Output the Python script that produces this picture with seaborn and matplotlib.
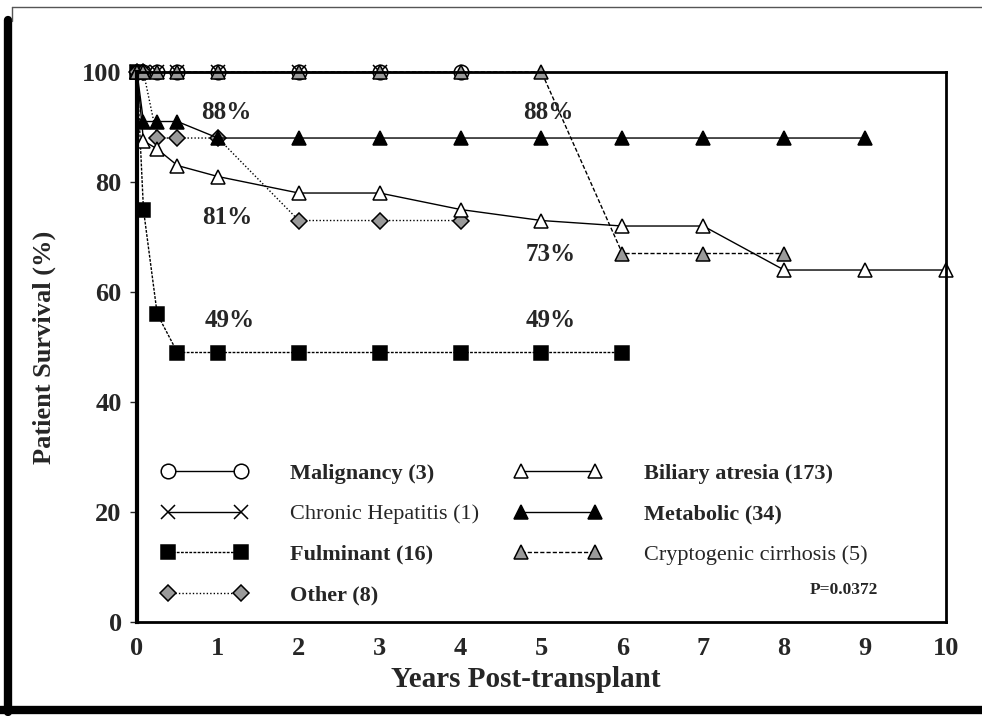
import pandas as pd
import matplotlib.pyplot as plt
import seaborn as sns
from matplotlib.lines import Line2D

# survival curves, years post-transplant vs patient survival (%)
malig_x = [0, 0.08, 0.25, 0.5, 1, 2, 3, 4]
malig_y = [100, 100, 100, 100, 100, 100, 100, 100]

chronic_x = [0, 0.08, 0.25, 0.5, 1, 2, 3]
chronic_y = [100, 100, 100, 100, 100, 100, 100]

fulm_x = [0, 0.08, 0.25, 0.5, 1, 2, 3, 4, 5, 6]
fulm_y = [100, 75, 56, 49, 49, 49, 49, 49, 49, 49]

other_x = [0, 0.08, 0.25, 0.5, 1, 2, 3, 4]
other_y = [100, 100, 88, 88, 88, 73, 73, 73]

biliary_x = [0, 0.08, 0.25, 0.5, 1, 2, 3, 4, 5, 6, 7, 8, 9, 10]
biliary_y = [100, 87.5, 86, 83, 81, 78, 78, 75, 73, 72, 72, 64, 64, 64]

metab_x = [0, 0.08, 0.25, 0.5, 1, 2, 3, 4, 5, 6, 7, 8, 9]
metab_y = [100, 91, 91, 91, 88, 88, 88, 88, 88, 88, 88, 88, 88]

crypto_x = [0, 0.08, 0.25, 0.5, 1, 2, 3, 4, 5, 6, 7, 8]
crypto_y = [100, 100, 100, 100, 100, 100, 100, 100, 100, 67, 67, 67]

labels = ['Malignancy (3)', 'Chronic Hepatitis (1)', 'Fulminant (16)', 'Other (8)',
          'Biliary atresia (173)', 'Metabolic (34)', 'Cryptogenic cirrhosis (5)']
label_bold = [True, False, True, True, True, True, False]

# annotations: (year, survival, text)
notes_x = [1.11, 1.12, 1.14, 5.09, 5.12, 5.12]
notes_y = [92.7, 73.5, 54.9, 92.7, 66.9, 54.9]
notes_txt = ['88%', '81%', '49%', '88%', '73%', '49%']

series = [
    (malig_x, malig_y, dict(marker='o', ms=10.5, mfc='white', ls='-')),
    (chronic_x, chronic_y, dict(marker='x', ms=10, mfc='black', ls='-')),
    (fulm_x, fulm_y, dict(marker='s', ms=10, mfc='black', ls=(0, (2, 1)))),
    (other_x, other_y, dict(marker='D', ms=8, mfc='#9a9a9a', ls=(0, (1, 1.5)))),
    (biliary_x, biliary_y, dict(marker='^', ms=10.5, mfc='white', ls='-')),
    (metab_x, metab_y, dict(marker='^', ms=10.5, mfc='black', ls='-')),
    (crypto_x, crypto_y, dict(marker='^', ms=9.5, mfc='#9a9a9a', ls=(0, (3, 1.5)))),
]

sns.set_style('white')
plt.rcParams['font.family'] = ['Liberation Serif', 'DejaVu Serif']

fig = plt.figure(figsize=(9.82, 7.16), dpi=100)
ax = fig.add_axes([0.1395, 0.1313, 0.8238, 0.7681])

for (xs, ys, st), name in zip(series, labels):
    df = pd.DataFrame({'Years': xs, 'Survival': ys})
    sns.lineplot(data=df, x='Years', y='Survival', ax=ax, color='black', lw=1.0,
                 estimator=None, sort=False, label=name, clip_on=False,
                 marker=st['marker'], markersize=st['ms'], markerfacecolor=st['mfc'],
                 markeredgecolor='black', markeredgewidth=1.1, linestyle=st['ls'])

for x, y, t in zip(notes_x, notes_y, notes_txt):
    ax.text(x, y, t, fontsize=18, fontweight='bold', ha='center', va='center')

ax.text(9.16, 5.8, 'P=0.0372', fontsize=12.5, fontweight='bold', ha='right', va='center')

ax.set_xlim(0, 10)
ax.set_ylim(0, 100)
ax.set_xticks(range(0, 11))
ax.set_yticks(range(0, 101, 20))
for lab in ax.get_xticklabels() + ax.get_yticklabels():
    lab.set_fontweight('bold')
    lab.set_fontsize(19)
ax.tick_params(axis='y', length=5, width=1, pad=6, direction='out', left=True)
ax.tick_params(axis='x', length=0, pad=11)

ax.set_xlabel('Years Post-transplant', fontsize=21, fontweight='bold')
ax.set_ylabel('Patient Survival (%)', fontsize=19, fontweight='bold')
ax.xaxis.set_label_coords(0.48, -0.08)
ax.yaxis.set_label_coords(-0.1, 0.5)

for side, w in [('left', 3), ('bottom', 2), ('right', 2), ('top', 2)]:
    ax.spines[side].set_linewidth(w)
    ax.spines[side].set_color('black')

leg = ax.legend(ncol=2, numpoints=2, frameon=False, loc='lower left',
                bbox_to_anchor=(0.030, 0.03), borderaxespad=0, borderpad=0,
                handlelength=3.9, handletextpad=1.9, columnspacing=1.6,
                labelspacing=0.9, fontsize=16)
for txt, b in zip(leg.get_texts(), label_bold):
    txt.set_fontweight('bold' if b else 'normal')

# scanned page frame
fig.add_artist(Line2D([0.008, 0.008], [0.005, 0.972], lw=6, color='black', transform=fig.transFigure))
fig.add_artist(Line2D([0, 1], [0.009, 0.009], lw=6, color='black', transform=fig.transFigure))
fig.add_artist(Line2D([0.012, 1], [0.99, 0.99], lw=1, color='#555555', transform=fig.transFigure))
fig.add_artist(Line2D([0.012, 0.012], [0.97, 0.99], lw=1, color='#555555', transform=fig.transFigure))

fig.savefig('out.png', dpi=100)
